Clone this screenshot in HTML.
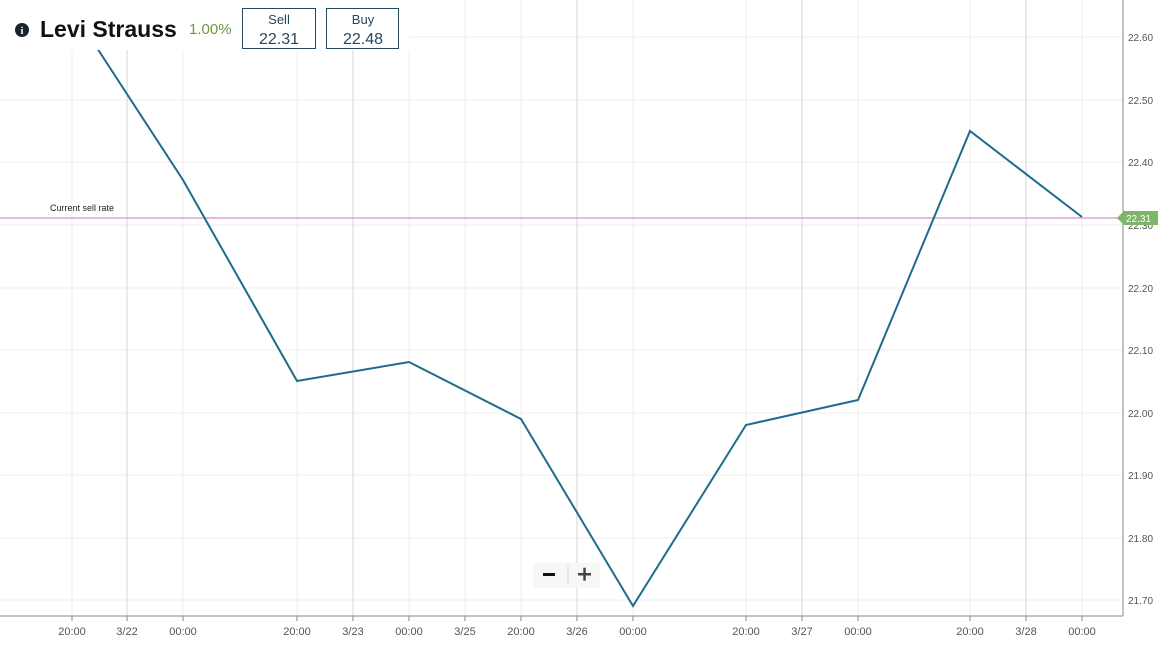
<!DOCTYPE html>
<html><head><style>
body{margin:0;background:#fff;font-family:"Liberation Sans",sans-serif;}
</style></head><body>
<svg width="1174" height="645" xmlns="http://www.w3.org/2000/svg" font-family="Liberation Sans, sans-serif">
<rect width="1174" height="645" fill="#fff"/>
<g stroke="#ececec" stroke-width="1">
<line x1="0" y1="37" x2="1123" y2="37"/><line x1="0" y1="100" x2="1123" y2="100"/>
<line x1="0" y1="162" x2="1123" y2="162"/><line x1="0" y1="225" x2="1123" y2="225"/>
<line x1="0" y1="288" x2="1123" y2="288"/><line x1="0" y1="350" x2="1123" y2="350"/>
<line x1="0" y1="413" x2="1123" y2="413"/><line x1="0" y1="475" x2="1123" y2="475"/>
<line x1="0" y1="538" x2="1123" y2="538"/><line x1="0" y1="600" x2="1123" y2="600"/>
<line x1="72" y1="0" x2="72" y2="616"/><line x1="183" y1="0" x2="183" y2="616"/>
<line x1="297" y1="0" x2="297" y2="616"/><line x1="409" y1="0" x2="409" y2="616"/>
<line x1="465" y1="0" x2="465" y2="616"/><line x1="521" y1="0" x2="521" y2="616"/>
<line x1="633" y1="0" x2="633" y2="616"/><line x1="746" y1="0" x2="746" y2="616"/>
<line x1="858" y1="0" x2="858" y2="616"/><line x1="970" y1="0" x2="970" y2="616"/>
<line x1="1082" y1="0" x2="1082" y2="616"/>
</g>
<g stroke="#d4d4d4" stroke-width="1">
<line x1="127" y1="0" x2="127" y2="616"/><line x1="353" y1="0" x2="353" y2="616"/>
<line x1="577" y1="0" x2="577" y2="616"/><line x1="802" y1="0" x2="802" y2="616"/>
<line x1="1026" y1="0" x2="1026" y2="616"/>
</g>
<line x1="1123" y1="0" x2="1123" y2="616" stroke="#888"/>
<line x1="0" y1="616" x2="1123" y2="616" stroke="#888"/>
<g stroke="#888">
<line x1="72" y1="616" x2="72" y2="621"/><line x1="127" y1="616" x2="127" y2="621"/><line x1="183" y1="616" x2="183" y2="621"/><line x1="297" y1="616" x2="297" y2="621"/><line x1="353" y1="616" x2="353" y2="621"/><line x1="409" y1="616" x2="409" y2="621"/><line x1="465" y1="616" x2="465" y2="621"/><line x1="521" y1="616" x2="521" y2="621"/><line x1="577" y1="616" x2="577" y2="621"/><line x1="633" y1="616" x2="633" y2="621"/><line x1="746" y1="616" x2="746" y2="621"/><line x1="802" y1="616" x2="802" y2="621"/><line x1="858" y1="616" x2="858" y2="621"/><line x1="970" y1="616" x2="970" y2="621"/><line x1="1026" y1="616" x2="1026" y2="621"/><line x1="1082" y1="616" x2="1082" y2="621"/>
</g>
<g font-size="11" fill="#555" text-anchor="middle">
<text x="72" y="635">20:00</text><text x="127" y="635">3/22</text><text x="183" y="635">00:00</text>
<text x="297" y="635">20:00</text><text x="353" y="635">3/23</text><text x="409" y="635">00:00</text>
<text x="465" y="635">3/25</text><text x="521" y="635">20:00</text><text x="577" y="635">3/26</text>
<text x="633" y="635">00:00</text><text x="746" y="635">20:00</text><text x="802" y="635">3/27</text>
<text x="858" y="635">00:00</text><text x="970" y="635">20:00</text><text x="1026" y="635">3/28</text>
<text x="1082" y="635">00:00</text>
</g>
<g font-size="10" fill="#555">
<text x="1128" y="41">22.60</text><text x="1128" y="104">22.50</text><text x="1128" y="166">22.40</text>
<text x="1128" y="229">22.30</text><text x="1128" y="292">22.20</text><text x="1128" y="354">22.10</text>
<text x="1128" y="417">22.00</text><text x="1128" y="479">21.90</text><text x="1128" y="542">21.80</text>
<text x="1128" y="604">21.70</text>
</g>
<line x1="0" y1="218" x2="1123" y2="218" stroke="#d9a3d9" stroke-width="1.5"/>
<text x="50" y="211" font-size="9" fill="#222">Current sell rate</text>
<polygon points="1117,218 1124,211 1158,211 1158,225 1124,225" fill="#7fb56b"/>
<text x="1126" y="222" font-size="10" fill="#fff">22.31</text>
<polyline fill="none" stroke="#1f6b8c" stroke-width="2" points="88,36 97,48 183,180 297,381 409,362 521,419 633,606 746,425 858,400 970,131 1082,217"/>
<rect x="0" y="0" width="410" height="50" fill="#fff"/>
<circle cx="22" cy="30" r="7" fill="#1a2230"/>
<text x="22" y="34" font-size="10" font-weight="bold" fill="#fff" text-anchor="middle" font-family="Liberation Serif, serif">i</text>
<text x="40" y="37" font-size="23" font-weight="bold" fill="#111">Levi Strauss</text>
<text x="189" y="34" font-size="15" fill="#6a9a3a">1.00%</text>
<rect x="242.5" y="8.5" width="73" height="40" fill="#fff" stroke="#24495e"/>
<text x="279" y="24" font-size="13" fill="#24495e" text-anchor="middle">Sell</text>
<text x="279" y="44" font-size="16" fill="#24495e" text-anchor="middle">22.31</text>
<rect x="326.5" y="8.5" width="72" height="40" fill="#fff" stroke="#24495e"/>
<text x="363" y="24" font-size="13" fill="#24495e" text-anchor="middle">Buy</text>
<text x="363" y="44" font-size="16" fill="#24495e" text-anchor="middle">22.48</text>
<rect x="533" y="563" width="67" height="25" fill="#f7f7f7" rx="2"/>
<rect x="543" y="573" width="12" height="3" fill="#111"/>
<line x1="568" y1="565" x2="568" y2="584" stroke="#ddd"/>
<rect x="578" y="573" width="13" height="2.5" fill="#444"/><rect x="583.3" y="567.7" width="2.5" height="13" fill="#444"/>
</svg>
</body></html>
